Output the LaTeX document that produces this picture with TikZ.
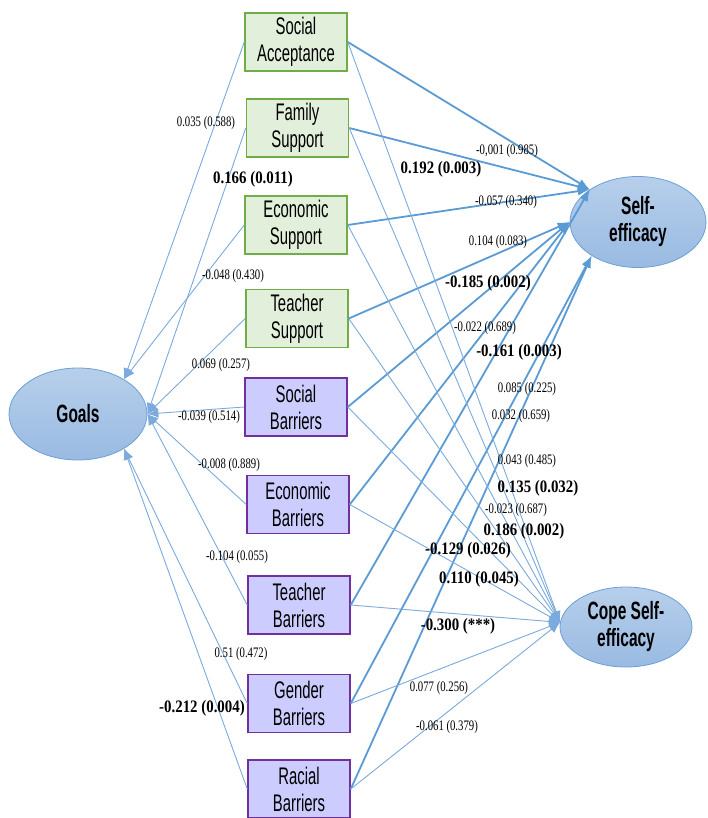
\documentclass[tikz,border=0pt]{standalone}
\usepackage{fontspec}
\usetikzlibrary{shapes.geometric,arrows.meta}
\newfontfamily\boxfont[FakeStretch=0.62]{Liberation Sans}
\newfontfamily\labfont[FakeStretch=0.74]{Liberation Serif}
\newfontfamily\blabfont[FakeStretch=0.85]{Liberation Serif}
\definecolor{gfill}{HTML}{E2EFDA}
\definecolor{gline}{HTML}{70AD47}
\definecolor{pfill}{HTML}{CCCCFF}
\definecolor{pline}{HTML}{7030A0}
\definecolor{etop}{HTML}{B7CFEB}
\definecolor{ebot}{HTML}{99BAE2}
\definecolor{eline}{HTML}{6C9FD5}
\definecolor{lblue}{HTML}{5B9BD5}
\definecolor{tblue}{HTML}{7BAADC}
\begin{document}
\begin{tikzpicture}[x=1pt,y=-1pt,
  gbox/.style={draw=gline, fill=gfill, line width=1.5pt, minimum width=102pt, minimum height=58pt, inner sep=0pt, align=center, font=\boxfont\fontsize{24}{27}\selectfont},
  pbox/.style={gbox, draw=pline, fill=pfill},
  latent/.style={ellipse, draw=eline, line width=0.8pt, top color=etop, bottom color=ebot, inner sep=0pt, align=center, font=\boxfont\bfseries\fontsize{25}{27}\selectfont},
  sepath/.style={draw=lblue, line width=1.8pt, -{Latex[length=12pt,width=9pt]}},
  thinpath/.style={draw=tblue, line width=0.9pt, -{Latex[length=11pt,width=9pt]}},
  lab/.style={font=\labfont\fontsize{14.5}{15}\selectfont, inner sep=0pt},
  blab/.style={font=\blabfont\bfseries\fontsize{17.5}{18}\selectfont, inner sep=0pt}
]
\useasboundingbox[fill=white] (0,0) rectangle (707,818);

% observed nodes
\node[gbox] (sa) at (296,42) {Social\\Acceptance};
\node[gbox] (fs) at (297.5,128) {Family\\Support};
\node[gbox] (es) at (296,225) {Economic\\Support};
\node[gbox] (ts) at (297,318.5) {Teacher\\Support};
\node[pbox] (sb) at (296,407) {Social\\Barriers};
\node[pbox] (eb) at (298,504.5) {Economic\\Barriers};
\node[pbox] (tb) at (299,605) {Teacher\\Barriers};
\node[pbox] (gb) at (299,703.5) {Gender\\Barriers};
\node[pbox] (rb) at (299,789) {Racial\\Barriers};

% latent nodes
\node[latent, minimum width=138pt, minimum height=92pt] (goals) at (78,414) {Goals};
\node[latent, minimum width=136pt, minimum height=91pt] (se) at (638,222) {Self-\\efficacy};
\node[latent, minimum width=132pt, minimum height=80pt] (cse) at (626,627) {Cope Self-\\efficacy};

% paths to Goals
\draw[thinpath] (sa.west) -- (goals.37);
\draw[thinpath] (es.west) -- (goals.37);
\draw[thinpath] (fs.west) -- (goals.east);
\draw[thinpath] (ts.west) -- (goals.east);
\draw[thinpath] (sb.west) -- (goals.east);
\draw[thinpath] (eb.west) -- (goals.east);
\draw[thinpath] (tb.west) -- (goals.east);
\draw[thinpath] (gb.west) -- (goals.-37);
\draw[thinpath] (rb.west) -- (goals.-37);

% paths to Self-efficacy
\draw[sepath] (sa.east) -- (se.146);
\draw[sepath] (fs.east) -- (se.146);
\draw[sepath] (es.east) -- (se.146);
\draw[sepath] (tb.east) -- (se.146);
\draw[sepath] (ts.east) -- (se.west);
\draw[sepath] (sb.east) -- (se.west);
\draw[sepath] (eb.east) -- (se.west);
\draw[sepath] (gb.east) -- (se.216);
\draw[sepath] (rb.east) -- (se.216);

% paths to Cope Self-efficacy
\foreach \n in {sa,fs,es,ts,sb,eb,tb,gb,rb}
  \draw[thinpath] (\n.east) -- (cse.176);

% labels
\node[lab] (l1) at (206,123) {0.035 (0.588)};
\node[blab] (l2) at (253,179) {0.166 (0.011)};
\node[lab] (l3) at (233,276) {-0.048 (0.430)};
\node[lab] (l4) at (221,365) {0.069 (0.257)};
\node[lab] (l5) at (209,417) {-0.039 (0.514)};
\node[lab] (l6) at (229,465) {-0.008 (0.889)};
\node[lab] (l7) at (237,557) {-0.104 (0.055)};
\node[lab] (l8) at (241,654) {0.51 (0.472)};
\node[blab] (l9) at (202,708) {-0.212 (0.004)};
\node[lab] (l10) at (507,151) {-0,001 (0.985)};
\node[blab] (l11) at (441,169) {0.192 (0.003)};
\node[lab] (l12) at (506,202) {-0.057 (0.340)};
\node[lab] (l13) at (498,242) {0.104 (0.083)};
\node[blab] (l14) at (488,283) {-0.185 (0.002)};
\node[lab] (l15) at (485,328) {-0.022 (0.689)};
\node[blab] (l16) at (519,352) {-0.161 (0.003)};
\node[lab] (l17) at (527,389) {0.085 (0.225)};
\node[lab] (l18) at (521,416) {0.032 (0.659)};
\node[lab] (l19) at (527,461) {0.043 (0.485)};
\node[blab] (l20) at (538,488) {0.135 (0.032)};
\node[lab] (l21) at (516,510) {-0.023 (0.687)};
\node[blab] (l22) at (524,531) {0.186 (0.002)};
\node[blab] (l23) at (468,550) {-0.129 (0.026)};
\node[blab] (l24) at (479,579) {0.110 (0.045)};
\node[blab] (l25) at (458,626) {-0.300 (***)};
\node[lab] (l26) at (439,688) {0.077 (0.256)};
\node[lab] (l27) at (447,727) {-0.061 (0.379)};
\end{tikzpicture}
\end{document}
